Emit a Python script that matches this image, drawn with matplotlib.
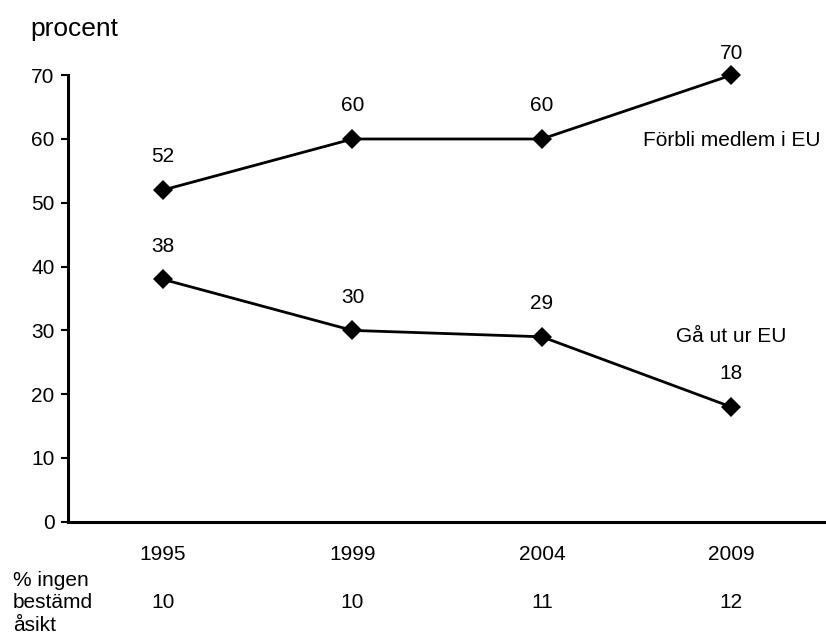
import matplotlib
matplotlib.use("Agg")
import matplotlib.pyplot as plt
import matplotlib.transforms as mtransforms

# --- data ---
years = ["1995", "1999", "2004", "2009"]
stay_in_eu = [52, 60, 60, 70]      # Förbli medlem i EU
leave_eu = [38, 30, 29, 18]        # Gå ut ur EU
no_opinion = [10, 10, 11, 12]      # % ingen bestämd åsikt
y_ticks = [0, 10, 20, 30, 40, 50, 60, 70]

plt.rcParams["font.family"] = ["Liberation Sans", "DejaVu Sans"]
FS = 15

fig = plt.figure(figsize=(8.26, 6.43), dpi=100)
ax = fig.add_axes([68.3 / 826, 1 - 521.8 / 643, 1 - 68.3 / 826, (521.8 - 75.2) / 643])

x = list(range(len(years)))
for series in (stay_in_eu, leave_eu):
    ax.plot(x, series, color="black", lw=2.0, marker="D", ms=10,
            markeredgewidth=0, clip_on=False, zorder=3)

# data labels above each point (top point sits closer because of the frame)
for series in (stay_in_eu, leave_eu):
    for xi, v in zip(x, series):
        off = 15.8 if v == max(y_ticks) else 23.8
        ax.annotate(str(v), (xi, v), xytext=(0, off), textcoords="offset points",
                    ha="center", va="center", fontsize=FS)

# series names
ax.text(3, 59.8, "Förbli medlem i EU", ha="center", va="center", fontsize=FS)
ax.text(3, 29.0, "Gå ut ur EU", ha="center", va="center", fontsize=FS)

ax.set_xlim(-0.5, 3.5)
ax.set_ylim(0, 70)
ax.set_yticks(y_ticks)
ax.set_xticks(x)
ax.set_xticklabels(years)
ax.tick_params(axis="x", length=0, pad=17, labelsize=FS)
ax.tick_params(axis="y", length=5, width=1.5, pad=5, labelsize=FS)

for side in ("top", "right"):
    ax.spines[side].set_visible(False)
for side in ("left", "bottom"):
    ax.spines[side].set_linewidth(2.2)

# "procent" unit label
fig.text(30.7 / 826, 1 - 36 / 643, "procent", fontsize=19, va="baseline", ha="left")

# bottom row: share with no opinion
trans = mtransforms.blended_transform_factory(ax.transData, fig.transFigure)
for xi, v in zip(x, no_opinion):
    ax.text(xi, 1 - 603 / 643, str(v), transform=trans, ha="center", va="center",
            fontsize=FS)

row_label = ["% ingen", "bestämd", "åsikt"]
for i, line in enumerate(row_label):
    fig.text(13 / 826, 1 - (580.5 + 22.5 * i) / 643, line, ha="left", va="center",
             fontsize=FS)

fig.savefig("out.png", dpi=100)
